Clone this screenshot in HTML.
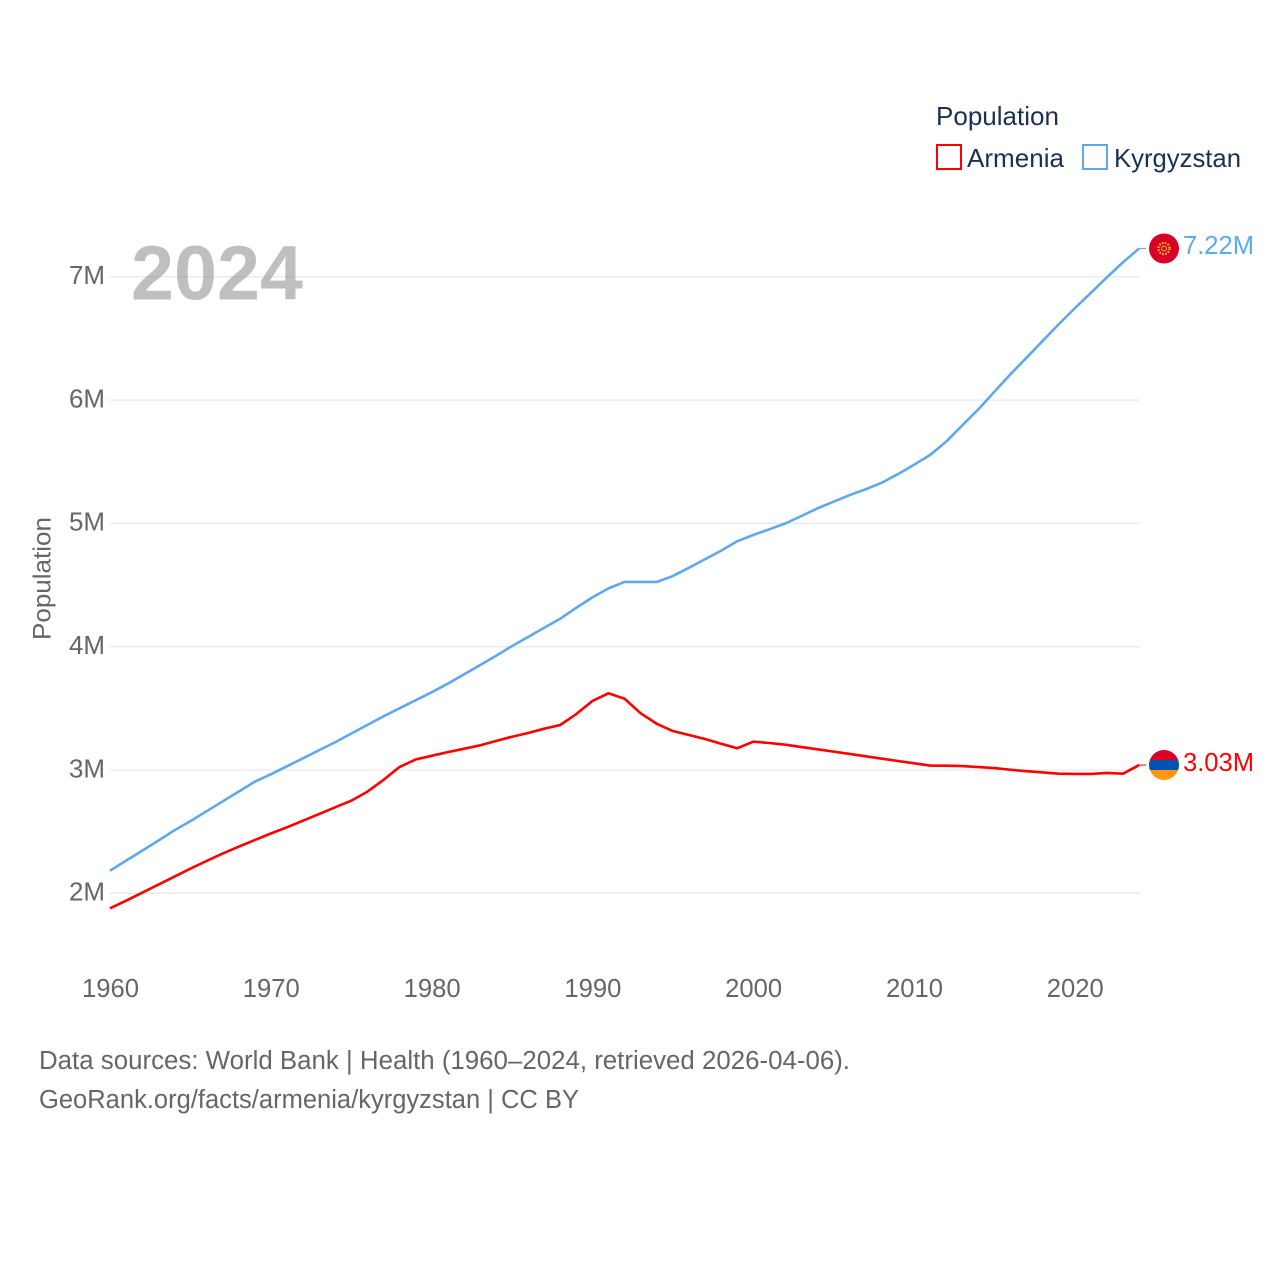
<!DOCTYPE html>
<html lang="en">
<head>
<meta charset="utf-8">
<title>Armenia and Kyrgyzstan population</title>
<style>
html,body{margin:0;padding:0;background:#fff;}
svg{display:block;}
text{font-family:"Liberation Sans",sans-serif;}
</style>
</head>
<body>
<svg id="chart" xmlns="http://www.w3.org/2000/svg" width="1280" height="1280" viewBox="0 0 1280 1280">
  <rect width="1280" height="1280" fill="#ffffff"/>
  <defs>
    <clipPath id="kg-clip"><circle cx="1164" cy="248.5" r="15"/></clipPath>
    <clipPath id="am-clip"><circle cx="1164" cy="765" r="15"/></clipPath>
  </defs>
  <g id="grid"></g>
  <g id="y-axis"></g>
  <g id="x-axis"></g>
  <text transform="translate(50.5 640) rotate(-90)" font-size="25" fill="#666666" textLength="123" lengthAdjust="spacingAndGlyphs">Population</text>
  <text x="131" y="299.5" font-size="77" font-weight="700" fill="#808080" fill-opacity="0.5" textLength="172" lengthAdjust="spacingAndGlyphs">2024</text>
  <g id="series"></g>
  <g clip-path="url(#kg-clip)">
    <rect x="1149" y="233" width="30" height="31" fill="#d80027"/>
    <circle cx="1164" cy="248.5" r="5.6" fill="none" stroke="#ffc21c" stroke-width="2.2" stroke-dasharray="1.6 1.4"/>
    <circle cx="1164" cy="248.5" r="2.4" fill="none" stroke="#ffc21c" stroke-width="1"/>
  </g>
  <g clip-path="url(#am-clip)">
    <rect x="1149" y="750" width="30" height="10" fill="#d80027"/>
    <rect x="1149" y="760" width="30" height="10" fill="#0052b4"/>
    <rect x="1149" y="770" width="30" height="10" fill="#ff9811"/>
  </g>
  <text x="1183" y="254" font-size="25.5" fill="#5fa8ec" textLength="71" lengthAdjust="spacingAndGlyphs">7.22M</text>
  <text x="1183" y="771" font-size="25.5" fill="#ff0000" textLength="71" lengthAdjust="spacingAndGlyphs">3.03M</text>
  <g>
    <text x="936" y="125" font-size="26" fill="#1b3153" textLength="123" lengthAdjust="spacingAndGlyphs">Population</text>
    <rect x="937" y="145" width="24" height="24" fill="none" stroke="#ff0000" stroke-width="2"/>
    <text x="967" y="167" font-size="26" fill="#1b3153" textLength="97" lengthAdjust="spacingAndGlyphs">Armenia</text>
    <rect x="1083" y="145" width="24" height="24" fill="none" stroke="#5fa8ec" stroke-width="2"/>
    <text x="1114" y="167" font-size="26" fill="#1b3153" textLength="127" lengthAdjust="spacingAndGlyphs">Kyrgyzstan</text>
  </g>
  <text x="39" y="1069" font-size="25.5" fill="#666666" textLength="811" lengthAdjust="spacingAndGlyphs">Data sources: World Bank | Health (1960–2024, retrieved 2026-04-06).</text>
  <text x="39" y="1108" font-size="25.5" fill="#666666" textLength="540" lengthAdjust="spacingAndGlyphs">GeoRank.org/facts/armenia/kyrgyzstan | CC BY</text>
</svg>
<script>
const startYear = 1960;
const yTickValues = [2, 3, 4, 5, 6, 7];
const yTickLabels = ["2M", "3M", "4M", "5M", "6M", "7M"];
const xTickYears = [1960, 1970, 1980, 1990, 2000, 2010, 2020];
const armeniaValues = [
  1.878, 1.94, 2.005, 2.07, 2.135, 2.20, 2.262, 2.322, 2.378, 2.432,
  2.485, 2.535, 2.589, 2.643, 2.697, 2.751, 2.824, 2.919, 3.024, 3.085,
  3.115, 3.145, 3.172, 3.20, 3.235, 3.27, 3.30, 3.335, 3.365, 3.454,
  3.56, 3.622, 3.578, 3.46, 3.375, 3.316, 3.284, 3.251, 3.213, 3.176,
  3.23, 3.219, 3.205, 3.186, 3.168, 3.149, 3.13, 3.111, 3.092, 3.073,
  3.054, 3.036, 3.035, 3.032, 3.024, 3.016, 3.002, 2.99, 2.98, 2.97,
  2.968, 2.968, 2.976, 2.97, 3.04
];
const kyrgyzstanValues = [
  2.183, 2.265, 2.345, 2.427, 2.51, 2.585, 2.665, 2.745, 2.825, 2.905,
  2.965, 3.03, 3.095, 3.16, 3.225, 3.295, 3.365, 3.435, 3.50, 3.565,
  3.63, 3.70, 3.775, 3.85, 3.926, 4.005, 4.079, 4.154, 4.227, 4.316,
  4.40, 4.473, 4.525, 4.525, 4.525, 4.573, 4.64, 4.709, 4.778, 4.855,
  4.906, 4.952, 5.00, 5.06, 5.122, 5.176, 5.23, 5.277, 5.33, 5.40,
  5.476, 5.555, 5.663, 5.795, 5.925, 6.068, 6.21, 6.344, 6.48, 6.615,
  6.745, 6.87, 6.996, 7.118, 7.23
];

const NS = "http://www.w3.org/2000/svg";
function xScale(year) { return 110 + (year - 1960) * 16.08; }
function yScale(value) { return 893.3 - (value - 2) * 123.3; }

const gridGroup = document.getElementById("grid");
const yGroup = document.getElementById("y-axis");
const xGroup = document.getElementById("x-axis");
const seriesGroup = document.getElementById("series");

yTickValues.forEach(function (v, i) {
  const line = document.createElementNS(NS, "line");
  
  
  line.setAttribute("x1", xScale(1960));
  line.setAttribute("x2", xScale(2024));
  line.setAttribute("y1", yScale(v));
  line.setAttribute("y2", yScale(v));
  line.setAttribute("stroke", "#e9e9e9");
  line.setAttribute("stroke-width", "1.3");
  gridGroup.appendChild(line);

  const label = document.createElementNS(NS, "text");
  
  
  label.setAttribute("x", 69);
  label.setAttribute("y", yScale(v) + 7.3);
  label.setAttribute("font-size", "25.5");
  label.setAttribute("fill", "#666666");
  label.setAttribute("textLength", "36");
  label.setAttribute("lengthAdjust", "spacingAndGlyphs");
  label.textContent = yTickLabels[i];
  yGroup.appendChild(label);
});

xTickYears.forEach(function (year) {
  const label = document.createElementNS(NS, "text");
  
  
  label.setAttribute("x", xScale(year) - 28);
  label.setAttribute("y", 997);
  label.setAttribute("font-size", "25.5");
  label.setAttribute("fill", "#666666");
  label.setAttribute("textLength", "57");
  label.setAttribute("lengthAdjust", "spacingAndGlyphs");
  label.textContent = String(year);
  xGroup.appendChild(label);
});

function drawSeries(values, color, seriesName) {
  const pts = values.map(function (v, i) {
    return xScale(startYear + i).toFixed(2) + "," + yScale(v).toFixed(2);
  }).join(" ");
  const line = document.createElementNS(NS, "polyline");
  
  
  line.setAttribute("data-series", seriesName);
  line.setAttribute("points", pts);
  line.setAttribute("fill", "none");
  line.setAttribute("stroke", color);
  line.setAttribute("stroke-width", "2.6");
  line.setAttribute("stroke-linejoin", "round");
  seriesGroup.appendChild(line);

  const endY = yScale(values[values.length - 1]);
  const connector = document.createElementNS(NS, "line");
  
  
  connector.setAttribute("x1", xScale(startYear + values.length - 1));
  connector.setAttribute("x2", xScale(startYear + values.length - 1) + 7);
  connector.setAttribute("y1", endY);
  connector.setAttribute("y2", endY);
  connector.setAttribute("stroke", color);
  connector.setAttribute("stroke-width", "1");
  seriesGroup.appendChild(connector);
}
drawSeries(kyrgyzstanValues, "#5fa8ec", "Kyrgyzstan");
drawSeries(armeniaValues, "#ff0000", "Armenia");
</script>
</body>
</html>
